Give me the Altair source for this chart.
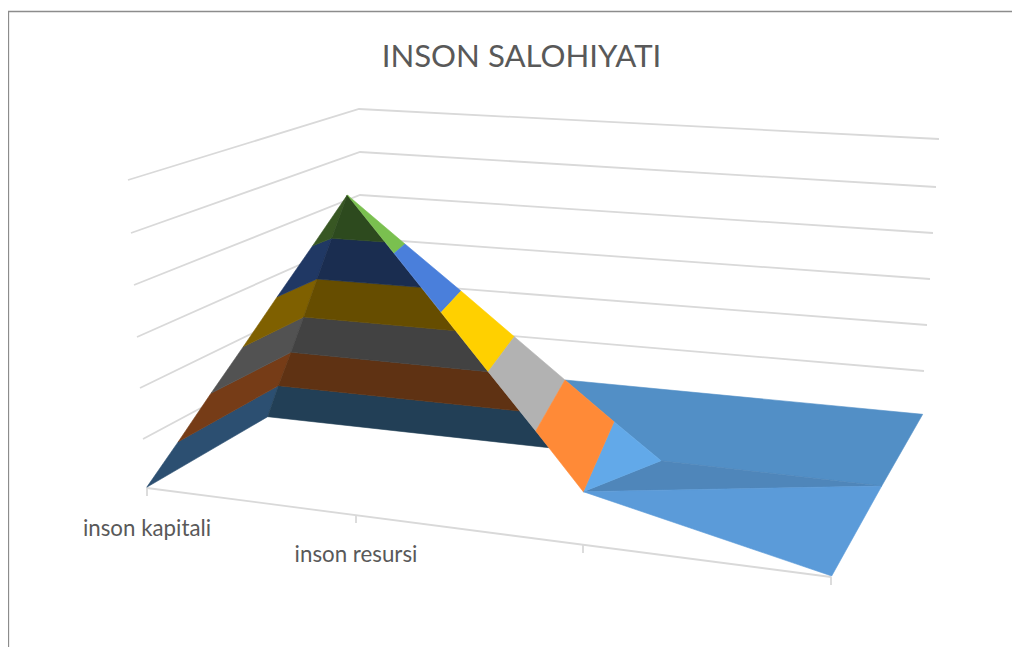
import altair as alt
import pandas as pd

title_text = "INSON SALOHIYATI"
category_labels = ["inson kapitali", "inson resursi"]
label_x = [147, 356]
label_y = [529, 555]

border_x = [8.5, 8.5, 1012]
border_y = [647, 11.5, 11.5]

# wall grid lines: left end, back corner, right end
grid_x = [
    [128, 359, 939], [131, 360, 936], [134, 360, 933],
    [137, 360, 930], [140, 360, 927], [143, 360, 924],
]
grid_y = [
    [180, 109, 139], [233, 152, 187], [285, 195, 233],
    [337, 238, 279], [388, 281, 325], [439, 323, 371],
]

axis_x = [147, 831]
axis_y = [488, 577]
tick_x = [147, 356, 583, 831]
tick_top = [488, 516, 545, 577]
tick_bottom = [496, 523, 553, 585]

poly_colors = [
    "#528fc6", "#4f86ba", "#5b9bd9", "#62a9e9",
    "#2c4f71", "#763c17", "#525252", "#7f6000", "#203864", "#385723",
    "#223f56", "#5f3213", "#424242", "#664d00", "#1a2d50", "#2d4a1e",
    "#7ac04f", "#4a7fdb", "#ffd000", "#b2b2b2", "#ff8a37",
]
poly_x = [
    [565, 922.7, 881.7, 661, 614],
    [661, 881.7, 583.3],
    [583.3, 881.7, 831.7],
    [614, 583.3, 661],
    [146.7, 267.7, 278.3, 178.3],
    [178.3, 278.3, 291, 211],
    [211, 291, 303.7, 243.3],
    [243.3, 303.7, 317, 277.3],
    [277.3, 317, 331.7, 312.7],
    [312.7, 331.7, 347.3],
    [267.7, 549, 519.6, 278.3],
    [278.3, 519.6, 488.2, 291],
    [291, 488.2, 455.4, 303.7],
    [303.7, 455.4, 421, 317],
    [317, 421, 384.8, 331.7],
    [331.7, 384.8, 347.3],
    [347.3, 405, 394.2],
    [394.2, 405, 461, 441.2],
    [441.2, 461, 514.3, 488.2],
    [488.2, 514.3, 565, 535.8],
    [535.8, 565, 614, 583.3],
]
poly_y = [
    [380, 414.3, 486, 460.7, 421.7],
    [460.7, 486, 491.7],
    [491.7, 486, 576],
    [421.7, 491.7, 460.7],
    [487.3, 416.7, 385.7, 441.7],
    [441.7, 385.7, 352.3, 393.3],
    [393.3, 352.3, 317, 346.7],
    [346.7, 317, 279, 296.7],
    [296.7, 279, 238.3, 245.7],
    [245.7, 238.3, 195],
    [416.7, 447.7, 411, 385.7],
    [385.7, 411, 371.7, 352.3],
    [352.3, 371.7, 330.7, 317],
    [317, 330.7, 287.3, 279],
    [279, 287.3, 242, 238.3],
    [238.3, 242, 195],
    [195, 244, 253.3],
    [253.3, 244, 291, 312.3],
    [312.3, 291, 336.7, 371.7],
    [371.7, 336.7, 380, 431],
    [431, 380, 421.7, 491.7],
]

X = alt.X("x:Q", scale=alt.Scale(domain=[8, 1012], nice=False, zero=False), axis=None)
Y = alt.Y("y:Q", scale=alt.Scale(domain=[647, 8], nice=False, zero=False), axis=None)


def frame(xs, ys):
    return pd.DataFrame({"x": xs, "y": ys, "i": range(len(xs))})


def path(xs, ys, color, width):
    return alt.Chart(frame(xs, ys)).mark_line(color=color, strokeWidth=width).encode(
        x=X, y=Y, order=alt.Order("i:Q")
    )


layers = [path(border_x, border_y, "#8c8c8c", 1.3)]
for xs, ys in zip(grid_x, grid_y):
    layers.append(path(xs, ys, "#d9d9d9", 1.8))
layers.append(path(axis_x, axis_y, "#d9d9d9", 1.8))
for tx, t0, t1 in zip(tick_x, tick_top, tick_bottom):
    layers.append(path([tx, tx], [t0, t1], "#d9d9d9", 1.8))
for color, xs, ys in zip(poly_colors, poly_x, poly_y):
    layers.append(
        alt.Chart(frame(xs, ys))
        .mark_line(fill=color, stroke=color, strokeWidth=0.6, interpolate="linear-closed")
        .encode(x=X, y=Y, order=alt.Order("i:Q"))
    )

text_df = pd.DataFrame({"x": label_x, "y": label_y, "t": category_labels})
layers.append(
    alt.Chart(text_df)
    .mark_text(font="Lato", fontSize=22.3, color="#595959", align="center", baseline="middle")
    .encode(x=X, y=Y, text="t:N")
)
title_df = pd.DataFrame({"x": [521.5], "y": [58], "t": [title_text]})
layers.append(
    alt.Chart(title_df)
    .mark_text(font="Lato", fontSize=31.2, color="#595959", align="center", baseline="middle")
    .encode(x=X, y=Y, text="t:N")
)

chart = (
    alt.layer(*layers)
    .properties(
        width=1004,
        height=639,
        padding=0,
        background="white",
        autosize=alt.AutoSizeParams(type="none"),
    )
    .configure_view(stroke=None)
)
chart.save("out.html", embed_options={"renderer": "svg", "actions": False})
